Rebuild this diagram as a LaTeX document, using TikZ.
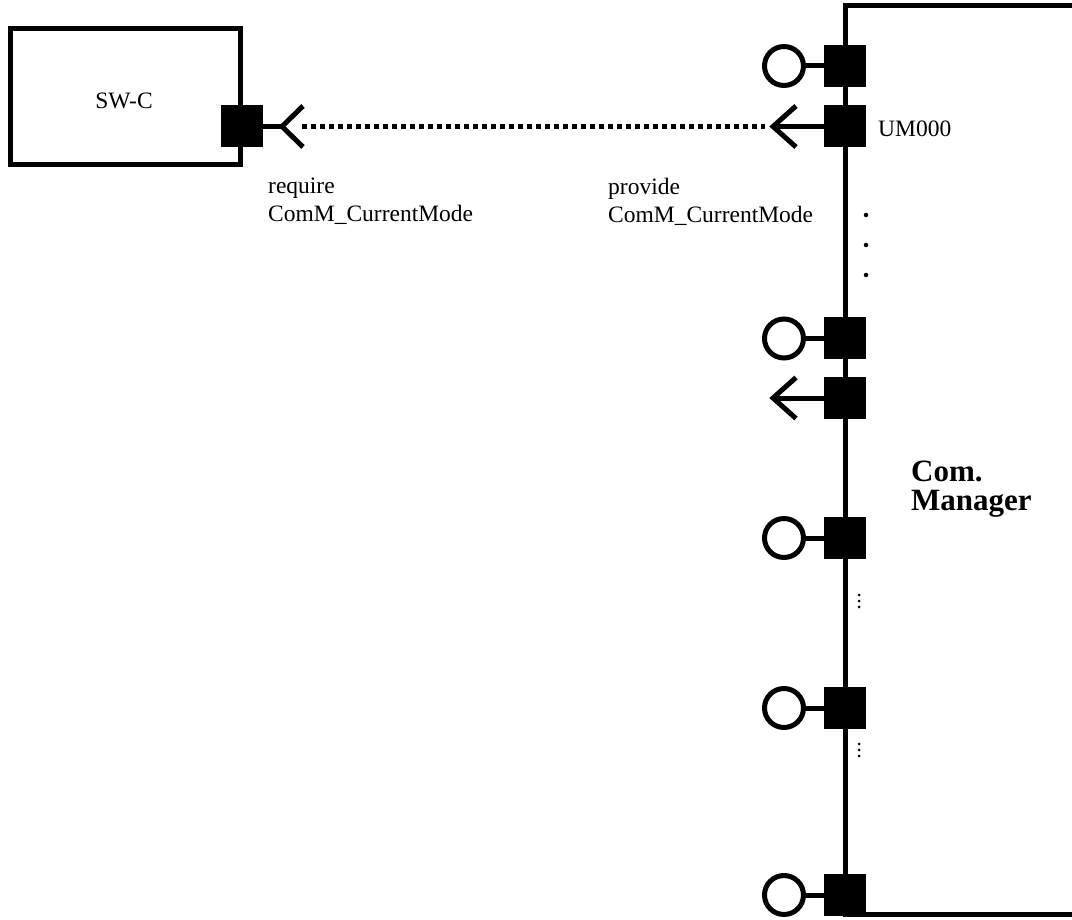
\documentclass[tikz,border=0pt]{standalone}
\usepackage{fontspec}
\setmainfont{Liberation Serif}
\begin{document}
\begin{tikzpicture}[x=1pt,y=-1pt,
  thick line/.style={line width=5pt},
  compbox/.style={draw,line width=5pt,rectangle,inner sep=0pt},
  portsq/.style={fill=black,draw=none,rectangle,minimum size=42pt,inner sep=0pt},
  lollipop/.style={draw,line width=5pt,circle,minimum size=39pt,inner sep=0pt},
  lbl/.style={inner sep=0pt,align=left,font=\fontsize{23.5}{28}\selectfont},
  bigdot/.style={fill=black,circle,inner sep=0pt,minimum size=4.5pt},
  smalldot/.style={fill=black,circle,inner sep=0pt,minimum size=3pt},
  dotline/.style={line width=5pt,dash pattern=on 5pt off 4pt}
]
\useasboundingbox (0,0) rectangle (1072,920);
\clip (0,0) rectangle (1072,920);

% SW-C component
\node[compbox,minimum width=230pt,minimum height=136pt] (swc) at (125,97) {};
\node[lbl,anchor=base] (swctext) at (124,109) {SW-C};

% Com. Manager component (extends past the right edge)
\coordinate (cmtr) at (1080,6);
\coordinate (cmtl) at (845,6);
\coordinate (cmbl) at (845,914);
\coordinate (cmbr) at (1080,914);
\draw[thick line] (cmtr) -- (cmtl) -- (cmbl) -- (cmbr);

% ports
\node[portsq] (p0) at (241.5,126.5) {};
\node[portsq] (c1) at (845,66) {};
\node[portsq] (c2) at (845,126.5) {};
\node[portsq] (c3) at (845,338.5) {};
\node[portsq] (c4) at (845,398) {};
\node[portsq] (c5) at (845,538) {};
\node[portsq] (c6) at (845,708) {};
\node[portsq] (c7) at (845,895) {};

% provided-interface circles
\node[lollipop] (o1) at (784,66) {};
\node[lollipop] (o3) at (784,338.5) {};
\node[lollipop] (o5) at (784,538) {};
\node[lollipop] (o6) at (784,708) {};
\node[lollipop] (o7) at (784,895) {};
\draw[thick line] (o1) -- (c1.west);
\draw[thick line] (o3) -- (c3.west);
\draw[thick line] (o5) -- (c5.west);
\draw[thick line] (o6) -- (c6.west);
\draw[thick line] (o7) -- (c7.west);

% require port of SW-C
\coordinate (r0) at (282,126.5);
\coordinate (r0u) at (303,106);
\coordinate (r0d) at (303,147);
\draw[thick line] (p0.east) -- (r0);
\draw[thick line] (r0u) -- (r0) -- (r0d);

% provide ports (arrows)
\coordinate (a2) at (773,126.5);
\coordinate (a2u) at (796,106);
\coordinate (a2d) at (796,147);
\draw[thick line] (c2.west) -- (a2);
\draw[thick line] (a2u) -- (a2) -- (a2d);

\coordinate (a4) at (773,398);
\coordinate (a4u) at (796,377.5);
\coordinate (a4d) at (796,418.5);
\draw[thick line] (c4.west) -- (a4);
\draw[thick line] (a4u) -- (a4) -- (a4d);

% dotted connection
\coordinate (dstart) at (302,126.5);
\coordinate (dend) at (765,126.5);
\draw[dotline] (dstart) -- (dend);

% labels
\node[lbl,anchor=north west] (req) at (268,178) {require\\ComM\_CurrentMode};
\node[lbl,anchor=north west] (prov) at (608,178) {provide\\ComM\_CurrentMode};
\node[lbl,anchor=base west] (um) at (878,137) {UM000};
\node[inner sep=0pt,align=left,anchor=north west,font=\bfseries\fontsize{31}{29}\selectfont] (cmname) at (911,461) {Com.\\Manager};

% ellipsis dots
\node[bigdot] (e1) at (866,215) {};
\node[bigdot] (e2) at (866,245) {};
\node[bigdot] (e3) at (866,275) {};
\node[smalldot] (f1) at (859,595) {};
\node[smalldot] (f2) at (859,601) {};
\node[smalldot] (f3) at (859,607) {};
\node[smalldot] (g1) at (859,744) {};
\node[smalldot] (g2) at (859,750) {};
\node[smalldot] (g3) at (859,756) {};
\end{tikzpicture}
\end{document}
